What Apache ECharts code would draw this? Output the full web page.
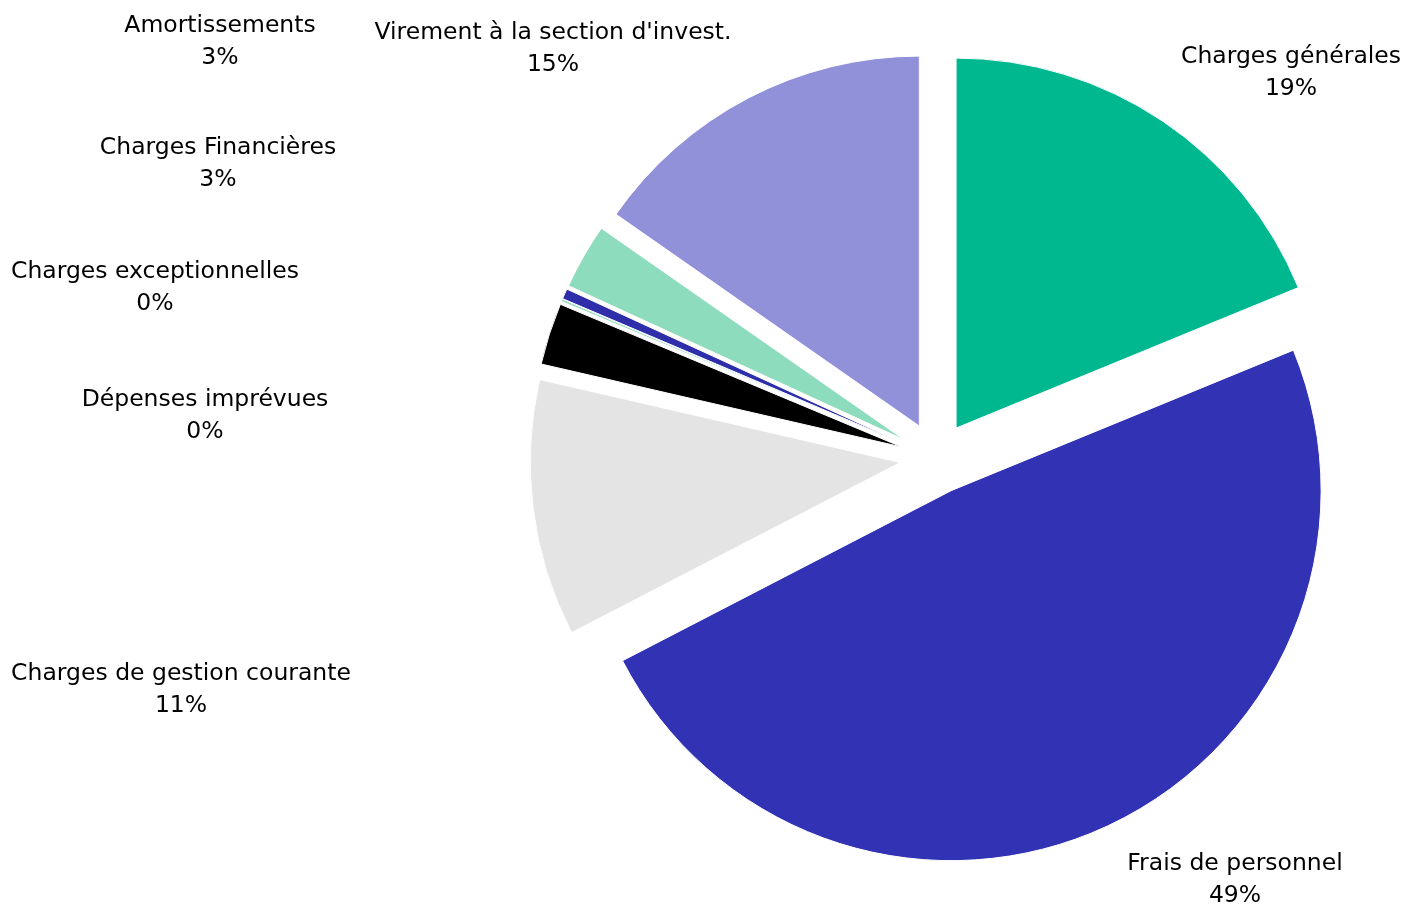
<!DOCTYPE html>
<html>
<head>
<meta charset="utf-8">
<script src="https://cdn.jsdelivr.net/npm/echarts@6/dist/echarts.min.js"></script>
<style>
  html, body { margin: 0; padding: 0; background: #fff; }
  #main { width: 1404px; height: 907px; }
</style>
</head>
<body>
<div id="main"></div>
<script>
// données (en % du total des dépenses)
const categories = [
  'Charges générales',
  'Frais de personnel',
  'Charges de gestion courante',
  'Charges Financières',
  'Charges exceptionnelles',
  'Dépenses imprévues',
  'Amortissements',
  "Virement à la section d'invest."
];
const values = [18.8, 48.6, 11.2, 2.7, 0.1, 0.45, 2.85, 15.3];
const colors = ['#00b88f', '#3232b5', '#e4e4e4', '#000000', '#8ddcbd', '#2e2eaa', '#8ddcbd', '#9191da'];

// position (centre) de chaque étiquette
const labelPos = [
  [1291, 73],
  [1235, 880],
  [181, 690],
  [218, 164],
  [155, 288],
  [205, 416],
  [220, 42],
  [553, 49]
];

const total = values.reduce((a, b) => a + b, 0);

let myChart = echarts.init(document.getElementById('main'));

let labelFont = '23.5px "DejaVu Sans"';
let labels = [];
categories.forEach((name, i) => {
  // nom sur la 1re ligne, pourcentage sur la 2e
  labels.push({
    type: 'text',
    silent: true,
    style: {
      text: name,
      x: labelPos[i][0],
      y: labelPos[i][1] - 16,
      align: 'center',
      verticalAlign: 'middle',
      font: labelFont,
      fill: '#000'
    }
  });
  labels.push({
    type: 'text',
    silent: true,
    style: {
      text: Math.round(values[i] / total * 100) + '%',
      x: labelPos[i][0],
      y: labelPos[i][1] + 16,
      align: 'center',
      verticalAlign: 'middle',
      font: labelFont,
      fill: '#000'
    }
  });
});

let option = {
  backgroundColor: '#fff',
  animation: false,
  graphic: labels,
  series: [
    {
      type: 'pie',
      center: [936, 458],
      radius: 370,
      startAngle: 90,
      clockwise: true,
      selectedMode: 'multiple',
      selectedOffset: 36,   // parts éclatées
      silent: true,
      itemStyle: {
        borderColor: '#fff',
        borderWidth: 1
      },
      label: { show: false },
      labelLine: { show: false },
      data: categories.map((name, i) => ({
        name: name,
        value: values[i],
        selected: true,
        itemStyle: { color: colors[i] },
        select: { itemStyle: { color: colors[i], borderColor: '#fff', borderWidth: 1 } }
      }))
    }
  ]
};
myChart.setOption(option);
</script>
</body>
</html>
